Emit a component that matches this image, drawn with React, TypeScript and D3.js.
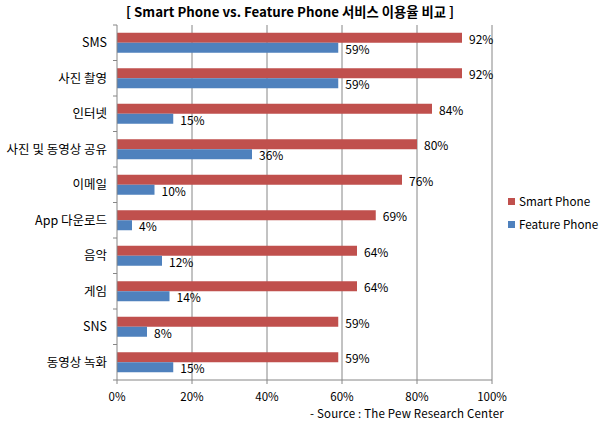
import * as d3 from 'd3';

const categories = ['SMS', '사진 촬영', '인터넷', '사진 및 동영상 공유', '이메일', 'App 다운로드', '음악', '게임', 'SNS', '동영상 녹화'];
const smartPhone = [92, 92, 84, 80, 76, 69, 64, 64, 59, 59];
const featurePhone = [59, 59, 15, 36, 10, 4, 12, 14, 8, 15];
const xTicks = [0, 20, 40, 60, 80, 100];
const seriesNames = ['Smart Phone', 'Feature Phone'];

const RED = '#C0504D';
const BLUE = '#4F81BD';
const GRID = '#868686';
const FONT = '"Noto Sans CJK KR", "Malgun Gothic", sans-serif';

export default function App() {
    const W = 600;
    const H = 425;
    const left = 117;
    const right = 492;
    const top = 25;
    const bottom = 380;

    const x = d3.scaleLinear().domain([0, 100]).range([left, right]);
    const y = d3.scaleBand<string>().domain(categories).range([top, bottom]);
    const barH = 10;

    const bands = categories.map(c => y(c) as number).concat([bottom]);

    return (
        <svg width={W} height={H} style={{ position: 'absolute', left: 0, top: 0, background: '#fff' }} fontFamily={FONT}>
            {/* title */}
            <text x={290} y={17} textAnchor="middle" fontSize={13.3} fontWeight="bold" fill="#000">
                [ Smart Phone vs. Feature Phone 서비스 이용율 비교 ]
            </text>

            {/* gridlines */}
            {xTicks.slice(1).map(t => (
                <line key={t} x1={x(t)} x2={x(t)} y1={top} y2={bottom} stroke={GRID} strokeWidth={1} />
            ))}

            {/* bars */}
            {categories.map((c, i) => {
                const cy = (y(c) as number) + y.bandwidth() / 2;
                return (
                    <g key={c}>
                        <rect x={x(0)} y={cy - barH} width={x(smartPhone[i]) - x(0)} height={barH} fill={RED} />
                        <rect x={x(0)} y={cy} width={x(featurePhone[i]) - x(0)} height={barH} fill={BLUE} />
                        <text x={x(smartPhone[i]) + 7} y={cy - barH / 2 + 6} fontSize={12} fill="#000">{smartPhone[i]}%</text>
                        <text x={x(featurePhone[i]) + 7} y={cy + barH / 2 + 6} fontSize={12} fill="#000">{featurePhone[i]}%</text>
                        <text x={107} y={cy + 4.5} textAnchor="end" fontSize={12.5} fill="#000">{c}</text>
                    </g>
                );
            })}

            {/* axes */}
            <line x1={left} x2={left} y1={top} y2={bottom} stroke={GRID} />
            <line x1={left} x2={right} y1={bottom} y2={bottom} stroke={GRID} />
            {bands.map((b, i) => (
                <line key={i} x1={left - 4} x2={left} y1={b} y2={b} stroke={GRID} />
            ))}
            {xTicks.map(t => (
                <g key={t}>
                    <line x1={x(t)} x2={x(t)} y1={bottom} y2={bottom + 4} stroke={GRID} />
                    <text x={x(t)} y={400.5} textAnchor="middle" fontSize={11.5} fill="#000">{t}%</text>
                </g>
            ))}

            {/* source */}
            <text x={310} y={418} fontSize={11.5} letterSpacing={0.2} fill="#000">- Source : The Pew Research Center</text>

            {/* legend */}
            {seriesNames.map((n, i) => (
                <g key={n} transform={`translate(508, ${198 + i * 23})`}>
                    <rect width={7} height={7} fill={i === 0 ? RED : BLUE} />
                    <text x={11} y={7.5} fontSize={11.7} fill="#000">{n}</text>
                </g>
            ))}
        </svg>
    );
}
